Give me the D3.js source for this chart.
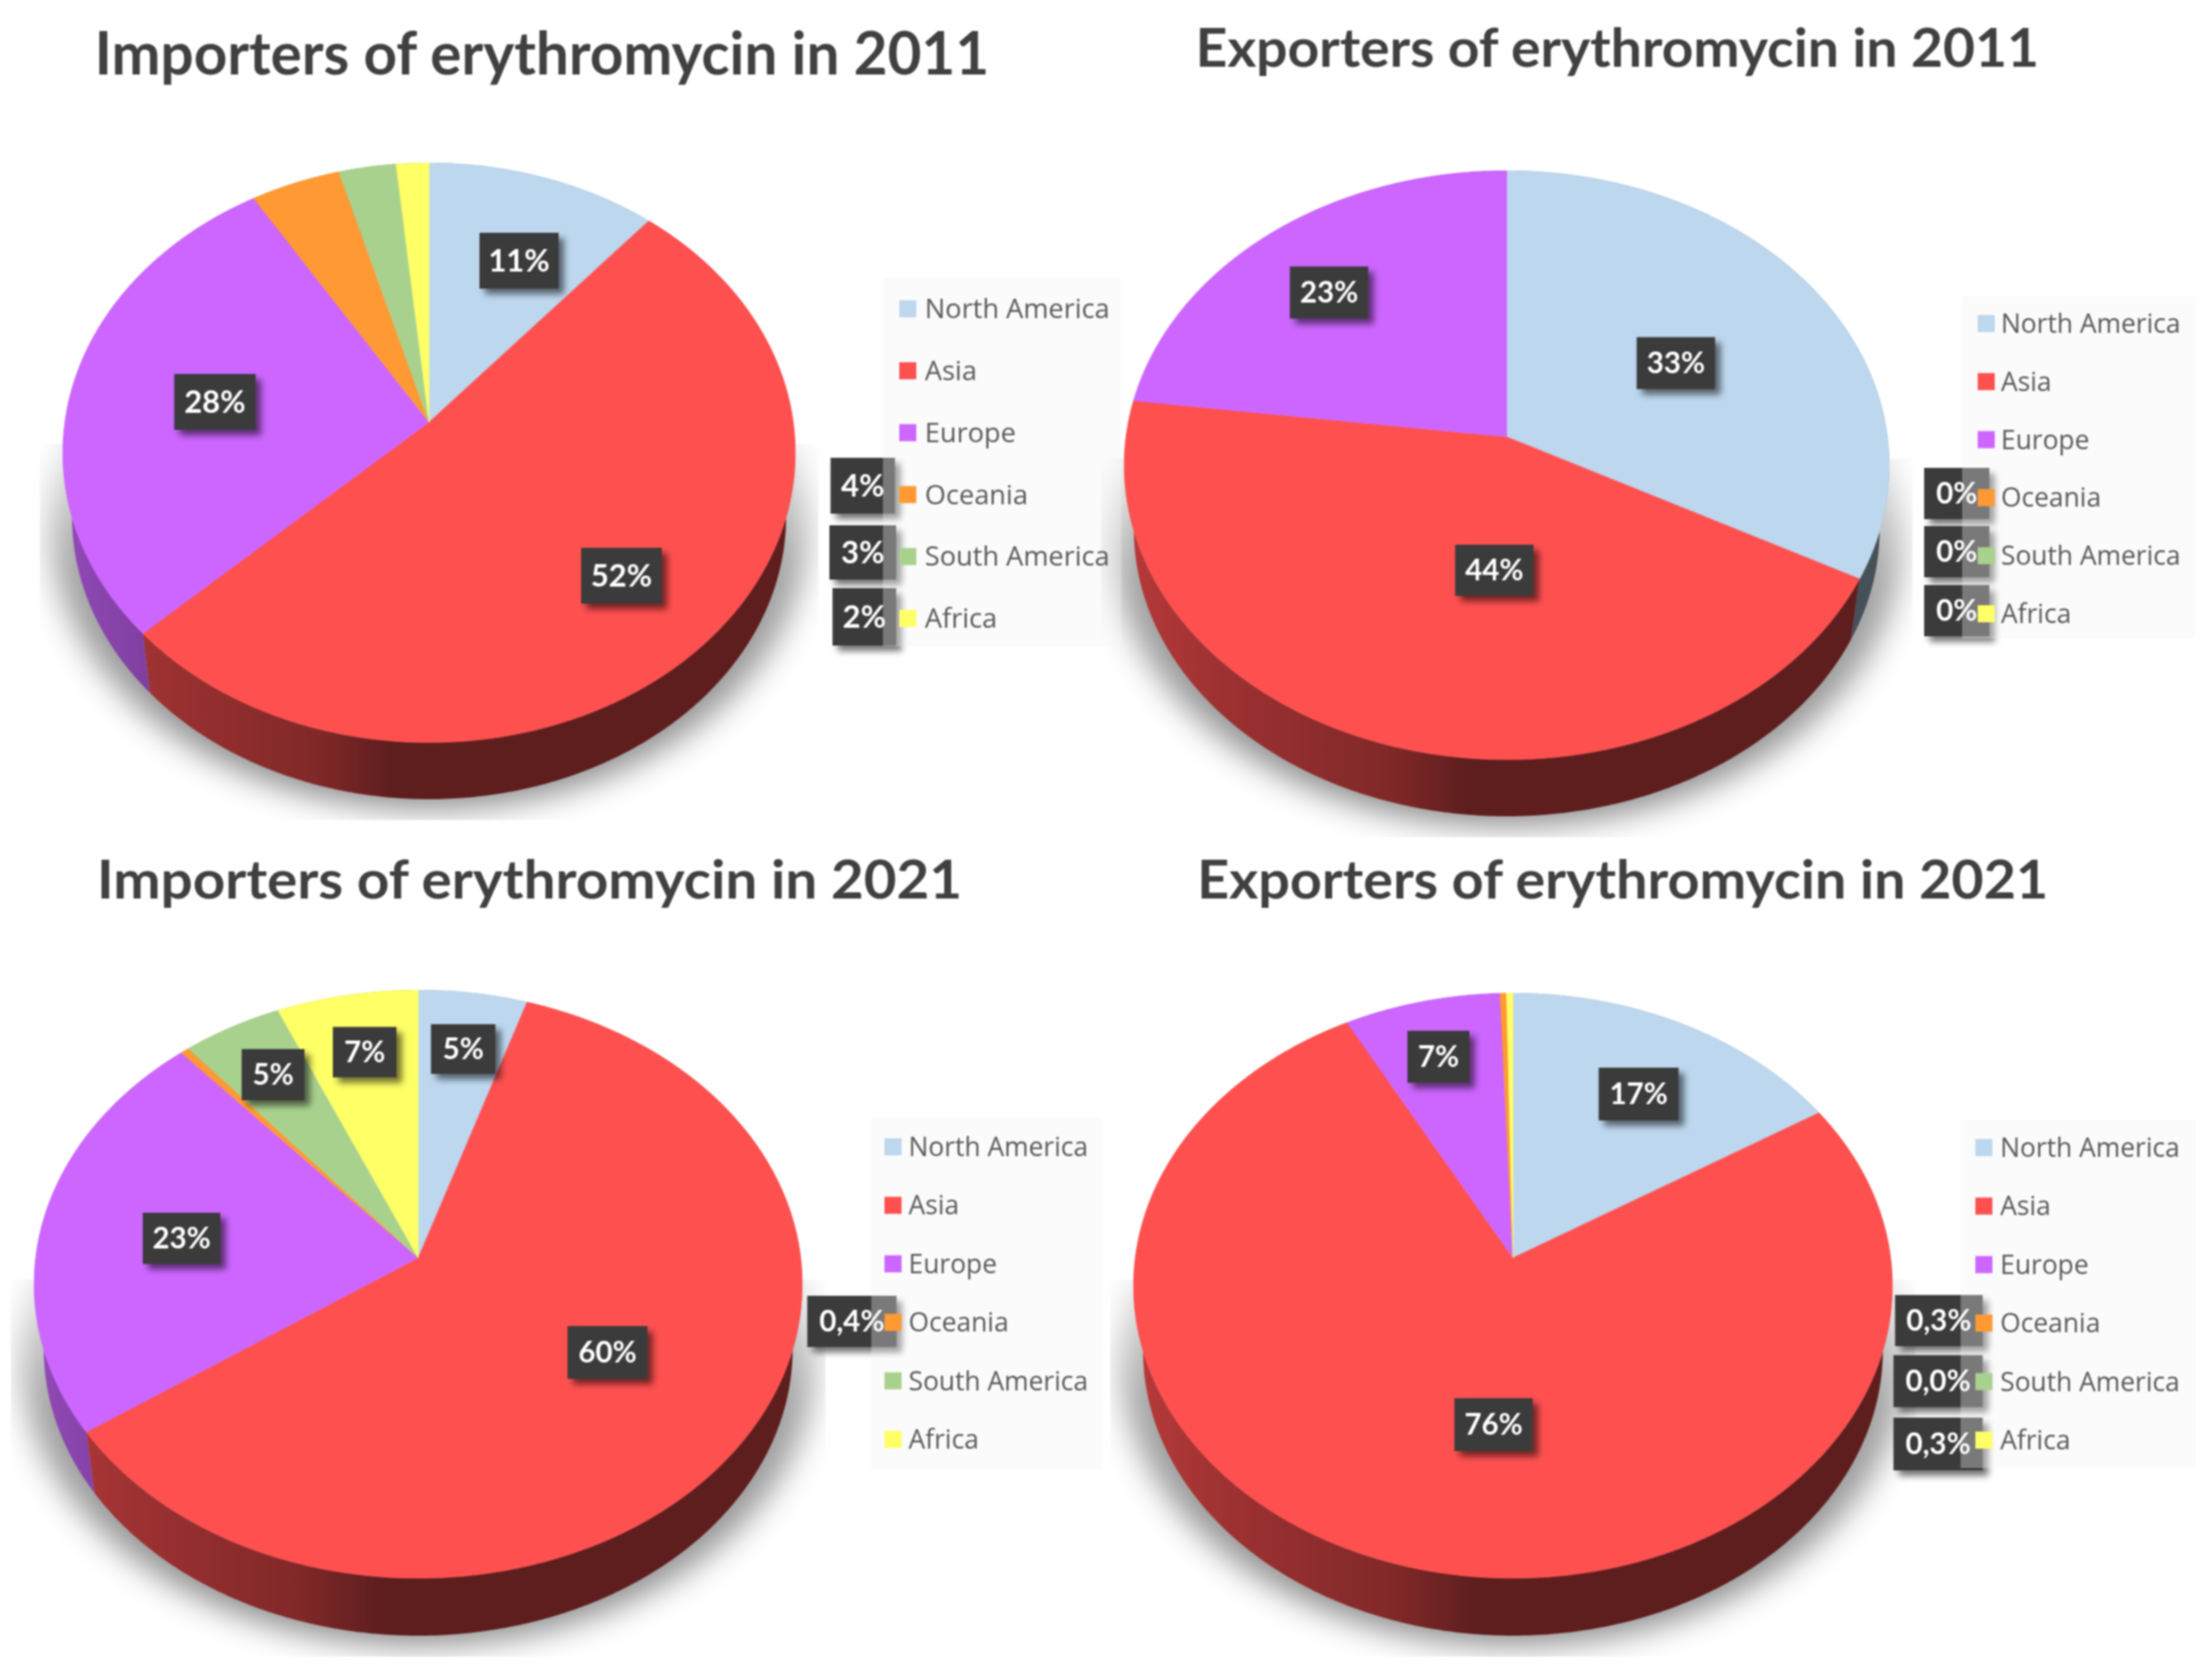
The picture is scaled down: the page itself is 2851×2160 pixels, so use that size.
<!DOCTYPE html>
<html>
<head>
<meta charset="utf-8">
<script src="https://cdn.jsdelivr.net/npm/d3@7"></script>
<style>
html,body{margin:0;padding:0;background:#fff;}
svg{display:block;filter:blur(0.9px);}
</style>
</head>
<body>
<script>
// ---------- data ----------
const categories = ["North America","Asia","Europe","Oceania","South America","Africa"];
const colors = ["#BDD7EE","#FF5050","#CC66FF","#FF9933","#A9D18E","#FFFF66"];

const titles = ["Importers of erythromycin in 2011","Exporters of erythromycin in 2011",
                "Importers of erythromycin in 2021","Exporters of erythromycin in 2021"];

const imports2011 = [11.3,51.7,28.2,4.4,2.8,1.6];
const exports2011 = [32.7,44.3,23,0,0,0];
const imports2021 = [5,60.4,23.1,0.4,4.6,6.5];
const exports2021 = [16.2,75.9,7.3,0.3,0,0.3];

const labels2011i = ["11%","52%","28%","4%","3%","2%"];
const labels2011e = ["33%","44%","23%","0%","0%","0%"];
const labels2021i = ["5%","60%","23%","0,4%","5%","7%"];
const labels2021e = ["17%","76%","7%","0,3%","0,0%","0,3%"];

// ---------- layout (separate from the values) ----------
const W = 2851, H = 2160;
const panels = [
 {values:imports2011,labels:labels2011i,title:titles[0],titleX:122,titleW:1153,titleY:96,titleSize:76,
  ax:553,ay:544,top:210,bottom:957,lower:1030,rx:472,
  offs:[[116,-208],[248,198],[-276,-26],[559,82],[559,168],[561,251]],sizes:[[102,72],[104,72],[105,72],[83,72],[86,70],[82,74]],labelSize:40,
  lg:{x:1138,r:1445,t:358,b:833,sx:1159,tx:1192,y0:398,dy:79.8,fs:35}},
 {values:exports2011,labels:labels2011e,title:titles[1],titleX:1541,titleW:1087,titleY:86,titleSize:68,
  ax:1942,ay:563,top:220,bottom:979,lower:1052,rx:493,
  offs:[[218,-95],[-16,172],[-229,-186],[580,73],[580,148],[580,224]],sizes:[[101,67],[101,66],[101,67],[84,66],[84,66],[84,66]],labelSize:38,
  lg:{x:2529,r:2829,t:382,b:823,sx:2549,tx:2579,y0:417,dy:74.8,fs:34}},
 {values:imports2021,labels:labels2021i,title:titles[2],titleX:125,titleW:1115,titleY:1158,titleSize:68,
  ax:539,ay:1621,top:1276,bottom:2034,lower:2108,rx:495,
  offs:[[58,-269],[244,122],[-305,-25],[559,82],[-187,-236],[-69,-265]],sizes:[[83,64],[103,68],[100,66],[115,66],[81,66],[82,65]],labelSize:38,
  lg:{x:1123,r:1420,t:1441,b:1893,sx:1140,tx:1171,y0:1478,dy:75.4,fs:34}},
 {values:exports2021,labels:labels2021e,title:titles[3],titleX:1543,titleW:1097,titleY:1158,titleSize:68,
  ax:1950,ay:1621,top:1280,bottom:2034,lower:2108,rx:489,
  offs:[[162,-211],[-25,215],[-96,-259],[549,81],[548,159],[548,240]],sizes:[[103,68],[101,68],[80,67],[113,66],[115,67],[115,68]],labelSize:38,
  lg:{x:2527,r:2830,t:1443,b:1892,sx:2546,tx:2578,y0:1479,dy:75.4,fs:34}}
];

const svg = d3.select("body").append("svg").attr("width",W).attr("height",H).attr("viewBox",[0,0,W,H]);
const defs = svg.append("defs");

const sb = defs.append("filter").attr("id","shadowBlur").attr("x","-20%").attr("y","-20%").attr("width","140%").attr("height","140%");
sb.append("feGaussianBlur").attr("stdDeviation",20);
const lb = defs.append("filter").attr("id","boxShadow").attr("x","-30%").attr("y","-30%").attr("width","170%").attr("height","170%");
lb.append("feDropShadow").attr("dx",7).attr("dy",7).attr("stdDeviation",4).attr("flood-color","#000").attr("flood-opacity",0.55);

const pieGen = d3.pie().sort(null).value(d=>d).startAngle(0).endAngle(2*Math.PI);
const line = d3.line();
const lowerShrink = 0.975;

const layerShadow = svg.append("g");
const layerSides = svg.append("g");
const layerTops = svg.append("g");
const layerLabels = svg.append("g");
const layerLegend = svg.append("g");
const layerTitles = svg.append("g");

panels.forEach((p,pi)=>{
  const a = p.ay-p.top, b = p.bottom-p.ay;
  const k = (b-a)/(b+a), T = a*(1+k), S = p.rx*Math.sqrt(1-k*k);
  const dyLow = (p.lower-p.bottom) + b*(1-lowerShrink);
  const rim = th => {
    const u = Math.sin(th), v = -Math.cos(th), d = 1-k*v;
    return [p.ax+S*u/d, p.ay+T*v/d];
  };
  const low = th => {
    const q = rim(th);
    return [p.ax+(q[0]-p.ax)*lowerShrink, p.ay+(q[1]-p.ay)*lowerShrink+dyLow];
  };
  const samples = (s,e) => {
    const n = Math.max(2,Math.ceil((e-s)/0.01));
    return d3.range(n+1).map(i=>s+(e-s)*i/n);
  };
  const arcs = pieGen(p.values);
  const x0 = p.ax-p.rx, x1 = p.ax+p.rx;

  // soft ground shadow, cut off by the picture frame of each chart
  const clipId = "clip"+pi;
  defs.append("clipPath").attr("id",clipId).append("rect")
      .attr("x",x0-30).attr("y",p.ay+28).attr("width",x1-x0+60).attr("height",p.lower+27-p.ay-28);
  const fadeId = "fade"+pi;
  const fade = defs.append("linearGradient").attr("id",fadeId).attr("gradientUnits","userSpaceOnUse")
      .attr("x1",0).attr("x2",0).attr("y1",p.ay+20).attr("y2",p.lower);
  fade.append("stop").attr("offset",0).attr("stop-color","#000").attr("stop-opacity",0.1);
  fade.append("stop").attr("offset",0.35).attr("stop-color","#000").attr("stop-opacity",0.36);
  fade.append("stop").attr("offset",1).attr("stop-color","#000").attr("stop-opacity",0.46);
  const ring = samples(0,2*Math.PI).map(low);
  layerShadow.append("g").attr("clip-path",`url(#${clipId})`)
    .append("path")
    .attr("d",line(ring.map(q=>[p.ax+(q[0]-p.ax)*1.06,q[1]+12]))+"Z")
    .attr("fill",`url(#${fadeId})`)
    .attr("filter","url(#shadowBlur)");

  arcs.forEach((arc,i)=>{
    if(arc.endAngle-arc.startAngle<=0) return;
    const ths = samples(arc.startAngle,arc.endAngle);
    const gradId = `side${pi}_${i}`;
    const c = d3.rgb(colors[i]);
    const mult = m => d3.rgb(c.r*m,c.g*m,c.b*m).formatHex();
    const g = defs.append("linearGradient").attr("id",gradId).attr("gradientUnits","userSpaceOnUse")
        .attr("x1",x0).attr("x2",x1).attr("y1",0).attr("y2",0);
    [[0,0.72],[0.12,0.62],[0.35,0.5],[0.45,0.37],[1,0.37]].forEach(s=>
        g.append("stop").attr("offset",s[0]).attr("stop-color",mult(s[1])));
    layerSides.append("path")
      .attr("d",line(ths.map(rim).concat(ths.slice().reverse().map(low)))+"Z")
      .attr("fill",`url(#${gradId})`);
    layerTops.append("path")
      .attr("d",line([[p.ax,p.ay]].concat(ths.map(rim)))+"Z")
      .attr("fill",colors[i]).attr("stroke",colors[i]).attr("stroke-width",0.6);
  });

  // data labels
  p.labels.forEach((t,i)=>{
    const cx = p.ax+p.offs[i][0], cy = p.ay+p.offs[i][1];
    const [w,h] = p.sizes[i];
    const g = layerLabels.append("g");
    g.append("rect").attr("x",cx-w/2).attr("y",cy-h/2).attr("width",w).attr("height",h)
      .attr("fill","#3a3a3a").attr("filter","url(#boxShadow)");
    g.append("text").attr("x",cx).attr("y",cy).attr("dy","0.35em").attr("text-anchor","middle")
      .attr("font-family","Lato, sans-serif").attr("font-weight",700).attr("font-size",p.labelSize)
      .attr("fill","#fff").text(t);
  });

  // legend: a translucent plate that lies over the docked labels
  const L = p.lg;
  layerLegend.append("rect").attr("x",L.x).attr("y",L.t).attr("width",L.r-L.x).attr("height",L.b-L.t)
    .attr("fill","#f2f2f2").attr("fill-opacity",0.34);
  categories.forEach((name,i)=>{
    const y = L.y0+i*L.dy;
    layerLegend.append("rect").attr("x",L.sx).attr("y",y-11).attr("width",22).attr("height",22).attr("fill",colors[i]);
    layerLegend.append("text").attr("x",L.tx).attr("y",y).attr("dy","0.35em")
      .attr("font-family","'Open Sans', sans-serif").attr("font-size",L.fs).attr("fill","#595959").text(name);
  });

  // title
  layerTitles.append("text").attr("x",p.titleX).attr("y",p.titleY)
    .attr("font-family","Lato, sans-serif").attr("font-weight",700).attr("font-size",p.titleSize)
    .attr("fill","#404040").attr("textLength",p.titleW).attr("lengthAdjust","spacingAndGlyphs").text(p.title);
});
</script>
</body>
</html>
